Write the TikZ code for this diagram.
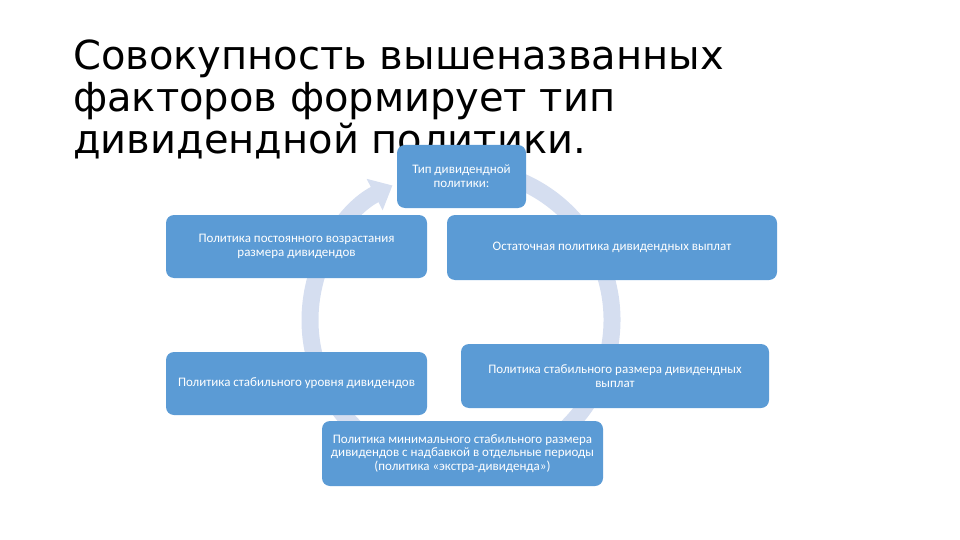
\documentclass[tikz,border=0pt]{standalone}
\usepackage{fontspec}
\setmainfont{DejaVu Sans}
\newfontfamily\boxfont{Carlito}
\usetikzlibrary{arrows.meta}
\definecolor{boxblue}{RGB}{91,155,213}
\definecolor{ringblue}{RGB}{213,222,240}

\begin{document}
\begin{tikzpicture}[
  x=1pt, y=1pt,
  card/.style={fill=boxblue, rounded corners=8pt, align=center, text=white, inner sep=2pt, font=\boxfont\fontsize{13}{13.8}\selectfont},
  ring/.style={draw=ringblue, line width=17pt, -{Triangle[width=34pt, length=20pt]}}
]
\useasboundingbox (0,0) rectangle (960,-540);
\node[anchor=base west, align=left, inner sep=0pt, font=\fontsize{40}{42.5}\selectfont] (title) at (73,-154)
  {Совокупность вышеназванных\\факторов формирует тип\\дивидендной политики.};
\coordinate (hub) at (461,-320);
\draw[ring] ([shift={(85:151)}]hub) arc[start angle=85, end angle=-243, radius=151];
\node[card, minimum width=129pt, minimum height=63pt] (kind) at (461.5,-176.5) {Тип дивидендной\\политики:};
\node[card, minimum width=261pt, minimum height=63pt] (growth) at (296.5,-246.5) {Политика постоянного возрастания\\размера дивидендов};
\node[card, minimum width=330pt, minimum height=65pt] (residual) at (612,-247.5) {Остаточная политика дивидендных выплат};
\node[card, minimum width=261pt, minimum height=63pt] (level) at (296.5,-383.5) {Политика стабильного уровня дивидендов};
\node[card, minimum width=308pt, minimum height=64pt] (size) at (615,-376) {Политика стабильного размера дивидендных\\выплат};
\node[card, minimum width=281pt, minimum height=65pt] (extra) at (462.5,-453.5) {Политика минимального стабильного размера\\дивидендов с надбавкой в отдельные периоды\\(политика «экстра-дивиденда»)};
\end{tikzpicture}
\end{document}
